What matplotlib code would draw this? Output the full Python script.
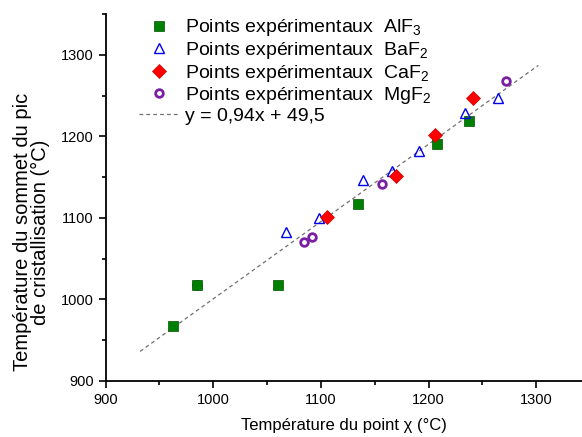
import numpy as np
import matplotlib
matplotlib.use('Agg')
import matplotlib.pyplot as plt

plt.rcParams['font.family'] = ['Liberation Sans', 'DejaVu Sans']
plt.rcParams['mathtext.fontset'] = 'custom'
plt.rcParams['mathtext.rm'] = 'Liberation Sans'
plt.rcParams['mathtext.it'] = 'Liberation Sans:italic'

# ── Data ─────────────────────────────────────────────────────────────────────
alf3_x = [963, 985, 1060, 1134, 1208, 1238]
alf3_y = [967, 1017, 1017, 1117, 1190, 1219]

baf2_x = [1068, 1098, 1139, 1166, 1191, 1234, 1265]
baf2_y = [1082, 1100, 1146, 1158, 1182, 1228, 1247]

caf2_x = [1106, 1170, 1206, 1241]
caf2_y = [1101, 1151, 1201, 1247]

mgf2_x = [985, 1084, 1092, 1157, 1272]
mgf2_y = [1017, 1070, 1076, 1141, 1268]

# fitted line as drawn in the figure (end points)
fit_x = [932, 1302]
fit_y = [936, 1287]
fit_label = 'y = 0,94x + 49,5'

# ── Plot ─────────────────────────────────────────────────────────────────────
fig = plt.figure(figsize=(5.82, 4.37), dpi=100)
ax = fig.add_axes([0.1816, 0.1288, 0.8184, 0.839])

ax.plot(fit_x, fit_y, color='#707070', ls=(0, (3, 2.5)), lw=0.9,
        label=fit_label, zorder=1)

ax.plot(mgf2_x, mgf2_y, 'o', ms=5.5, mfc='none', mec='#7b1fa2', mew=2.0,
        label=r'Points expérimentaux  MgF$_2$', zorder=2)
ax.plot(alf3_x, alf3_y, 's', ms=6.5, color='#008000', mec='#005000', mew=0.5,
        label=r'Points expérimentaux  AlF$_3$', zorder=3)
ax.plot(baf2_x, baf2_y, '^', ms=7.5, mfc='none', mec='#0000ee', mew=1.0,
        label=r'Points expérimentaux  BaF$_2$', zorder=3)
ax.plot(caf2_x, caf2_y, 'D', ms=7, color='#ff0000', mec='#cc0000', mew=0.5,
        label=r'Points expérimentaux  CaF$_2$', zorder=3)

ax.set_xlim(900, 1342.6)
ax.set_ylim(900, 1350)
ax.set_xticks([900, 1000, 1100, 1200, 1300])
ax.set_xticks([950, 1050, 1150, 1250], minor=True)
ax.set_yticks([900, 1000, 1100, 1200, 1300])
ax.set_yticks([950, 1050, 1150, 1250, 1350], minor=True)
ax.spines['top'].set_visible(False)
ax.spines['right'].set_visible(False)
for s in ['left', 'bottom']:
    ax.spines[s].set_linewidth(1.3)
ax.tick_params(which='major', direction='out', length=5, width=1.2, labelsize=10.5)
ax.tick_params(which='minor', direction='out', length=3, width=1.2)

ax.set_xlabel('Température du point χ (°C)', fontsize=12, labelpad=8)
ax.set_ylabel('Température du sommet du pic\nde cristallisation (°C)',
              fontsize=14.5, linespacing=0.95)
ax.yaxis.set_label_coords(-0.117, 0.405)

h, l = ax.get_legend_handles_labels()
order = [2, 3, 4, 1, 0]
ax.legend([h[i] for i in order], [l[i] for i in order], loc='upper left',
          bbox_to_anchor=(0.225, 0.978), bbox_transform=fig.transFigure,
          frameon=False, fontsize=14, handlelength=2.1, handletextpad=0.3,
          labelspacing=0.08, borderaxespad=0)

plt.savefig('out.png', dpi=100)
